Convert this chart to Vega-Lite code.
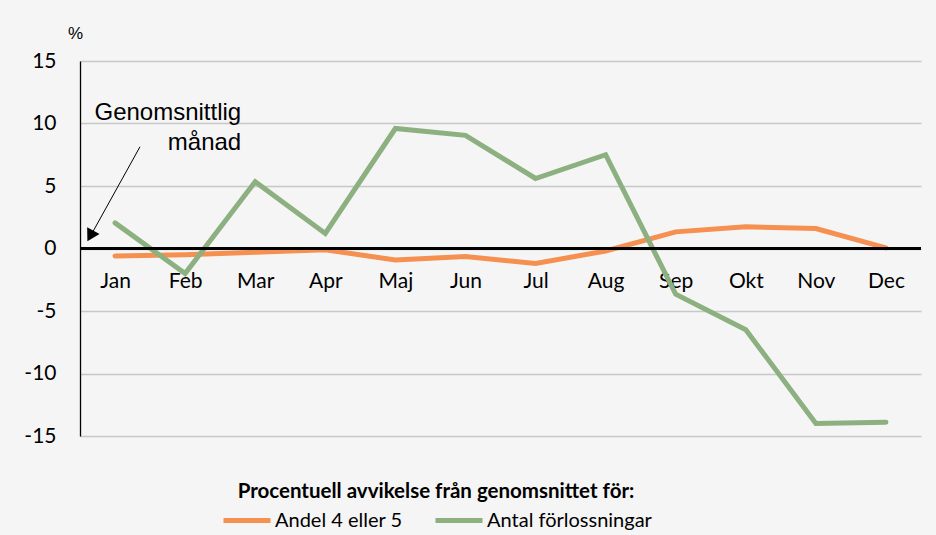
{
  "$schema": "https://vega.github.io/schema/vega-lite/v6.json",
  "width": 841,
  "height": 375,
  "autosize": {"type": "none"},
  "padding": {"left": 80, "top": 61, "right": 15, "bottom": 99},
  "background": "#f5f5f5",
  "config": {
    "view": {"stroke": null},
    "font": "Lato"
  },
  "datasets": {
    "series": [
      {"m": 1, "serie": "Andel 4 eller 5", "v": -0.6},
      {"m": 2, "serie": "Andel 4 eller 5", "v": -0.5},
      {"m": 3, "serie": "Andel 4 eller 5", "v": -0.3},
      {"m": 4, "serie": "Andel 4 eller 5", "v": -0.1},
      {"m": 5, "serie": "Andel 4 eller 5", "v": -0.92},
      {"m": 6, "serie": "Andel 4 eller 5", "v": -0.65},
      {"m": 7, "serie": "Andel 4 eller 5", "v": -1.2},
      {"m": 8, "serie": "Andel 4 eller 5", "v": -0.2},
      {"m": 9, "serie": "Andel 4 eller 5", "v": 1.33},
      {"m": 10, "serie": "Andel 4 eller 5", "v": 1.73},
      {"m": 11, "serie": "Andel 4 eller 5", "v": 1.6},
      {"m": 12, "serie": "Andel 4 eller 5", "v": 0.05},
      {"m": 1, "serie": "Antal förlossningar", "v": 2.05},
      {"m": 2, "serie": "Antal förlossningar", "v": -2.0},
      {"m": 3, "serie": "Antal förlossningar", "v": 5.34},
      {"m": 4, "serie": "Antal förlossningar", "v": 1.2},
      {"m": 5, "serie": "Antal förlossningar", "v": 9.6},
      {"m": 6, "serie": "Antal förlossningar", "v": 9.05},
      {"m": 7, "serie": "Antal förlossningar", "v": 5.6},
      {"m": 8, "serie": "Antal förlossningar", "v": 7.5},
      {"m": 9, "serie": "Antal förlossningar", "v": -3.66},
      {"m": 10, "serie": "Antal förlossningar", "v": -6.5},
      {"m": 11, "serie": "Antal förlossningar", "v": -14.0},
      {"m": 12, "serie": "Antal förlossningar", "v": -13.9}
    ],
    "arrow": [
      {"x": 1.356, "y": 8.14},
      {"x": 0.65, "y": 1.0}
    ],
    "head": [
      {"x": 0.648, "y": 1.0}
    ],
    "notes": [
      {"x": 2.8, "y": 10.84, "t": "Genomsnittlig"},
      {"x": 2.8, "y": 8.44, "t": "månad"}
    ]
  },
  "layer": [
    {
      "data": {"name": "series"},
      "mark": {"type": "line", "strokeWidth": 5, "strokeCap": "round", "strokeJoin": "miter"},
      "encoding": {
        "x": {
          "field": "m", "type": "quantitative",
          "scale": {"domain": [0.5, 12.5], "nice": false, "zero": false},
          "axis": {
            "values": [1,2,3,4,5,6,7,8,9,10,11,12],
            "labelExpr": "['Jan','Feb','Mar','Apr','Maj','Jun','Jul','Aug','Sep','Okt','Nov','Dec'][datum.value-1]",
            "offset": -187.5,
            "domain": false, "ticks": false, "grid": false,
            "labelFontSize": 21, "labelColor": "#000000", "labelFont": "Lato",
            "labelPadding": 22, "title": null
          }
        },
        "y": {
          "field": "v", "type": "quantitative",
          "scale": {"domain": [-15, 15], "nice": false},
          "axis": {
            "values": [-15,-10,-5,0,5,10,15],
            "labelExpr": "toString(datum.value)",
            "grid": true,
            "domainColor": "#000000", "domainWidth": 1.3,
            "ticks": false, "gridColor": "#c8c8c8", "gridWidth": 1.3, "gridOpacity": 1,
            "labelFontSize": 21, "labelColor": "#000000", "labelFont": "Lato",
            "labelPadding": 24,
            "title": "%", "titleAngle": 0, "titleFont": "Liberation Sans", "titleFontWeight": "normal",
            "titleFontSize": 17, "titleColor": "#000000",
            "titleX": -5, "titleY": -28, "titleAlign": "center", "titleBaseline": "middle"
          }
        },
        "color": {
          "field": "serie", "type": "nominal",
          "scale": {"domain": ["Andel 4 eller 5", "Antal förlossningar"], "range": ["#F59050", "#8CB080"]},
          "legend": {
            "orient": "none", "legendX": 141, "legendY": 421,
            "direction": "horizontal",
            "title": "Procentuell avvikelse från genomsnittet för:",
            "titleLimit": 800,
            "titleFont": "Lato", "titleFontSize": 20.5, "titleFontWeight": "bold", "titleColor": "#000000",
            "titleAnchor": "middle", "titlePadding": -8,
            "labelFont": "Lato", "labelFontSize": 20, "labelColor": "#000000", "labelLimit": 400,
            "symbolType": "stroke", "symbolSize": 2209, "symbolStrokeWidth": 5,
            "labelOffset": 2, "columnPadding": 22
          }
        }
      }
    },
    {
      "data": {"name": "series"},
      "mark": {"type": "rule", "color": "#000000", "strokeWidth": 1.3},
      "encoding": {"y": {"datum": 0, "type": "quantitative"}}
    },
    {
      "data": {"name": "arrow"},
      "mark": {"type": "line", "color": "#000000", "strokeWidth": 1},
      "encoding": {
        "x": {"field": "x", "type": "quantitative"},
        "y": {"field": "y", "type": "quantitative"}
      }
    },
    {
      "data": {"name": "head"},
      "mark": {"type": "point", "shape": "triangle-up", "filled": true, "color": "#000000", "opacity": 1, "size": 200, "angle": 209},
      "encoding": {
        "x": {"field": "x", "type": "quantitative"},
        "y": {"field": "y", "type": "quantitative"}
      }
    },
    {
      "data": {"name": "notes"},
      "mark": {"type": "text", "align": "right", "baseline": "middle", "font": "Liberation Sans", "fontSize": 24, "color": "#000000"},
      "encoding": {
        "x": {"field": "x", "type": "quantitative"},
        "y": {"field": "y", "type": "quantitative"},
        "text": {"field": "t"}
      }
    }
  ]
}
